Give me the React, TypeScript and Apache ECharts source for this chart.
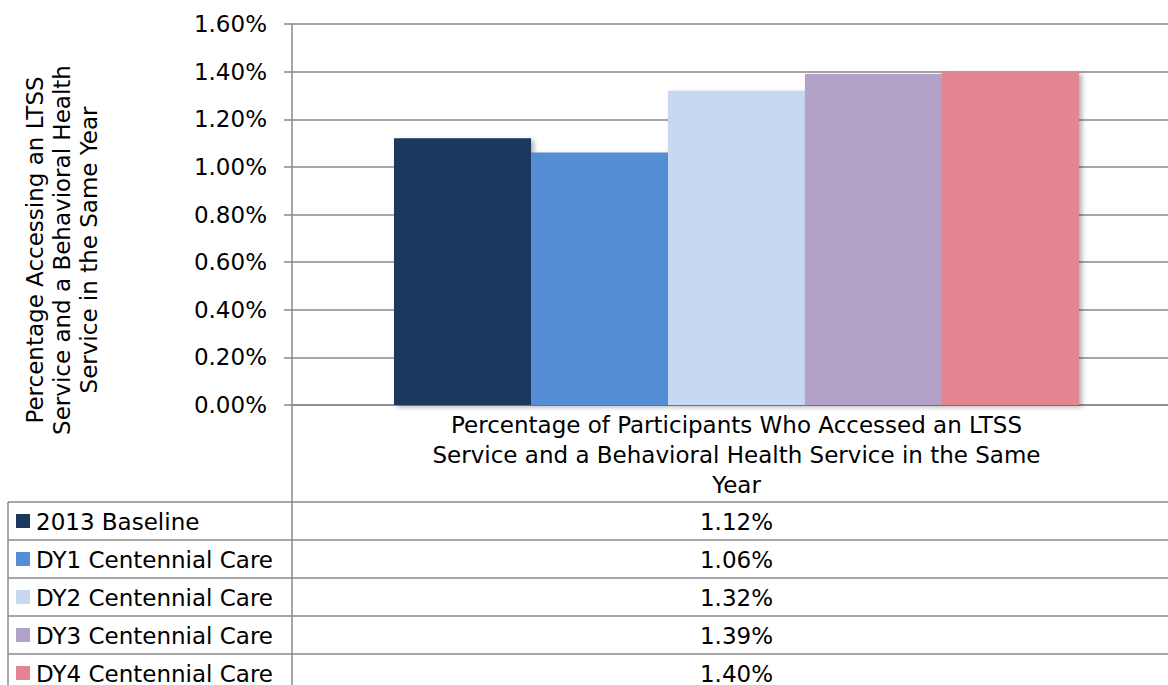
import React, { useEffect, useRef } from "react";
import * as echarts from "echarts";

const categories = [
  "Percentage of Participants Who Accessed an LTSS\nService and a Behavioral Health Service in the Same\nYear",
];
const seriesNames = [
  "2013 Baseline",
  "DY1 Centennial Care",
  "DY2 Centennial Care",
  "DY3 Centennial Care",
  "DY4 Centennial Care",
];
const seriesValues = [1.12, 1.06, 1.32, 1.39, 1.4];
const seriesColors = ["#1a375e", "#558ed5", "#c6d9f1", "#b2a2c7", "#e48591"];
const yTitle = "Percentage Accessing an LTSS\nService and a Behavioral Health\nService in the Same Year";

const W = 1168;
const H = 685;
const CHART_W = 1181;
const FONT = "DejaVu Sans";
const FS = 23;
const GRID_LEFT = 292;
const GRID_TOP = 24;
const GRID_H = 381;
const GRID_W = 889;
const TABLE_TOP = 502;
const ROW_H = 38;
const LINE_COLOR = "#8a8a8a";

export default function App() {
  const ref = useRef<HTMLDivElement>(null);
  useEffect(() => {
    document.body.style.margin = "0";
    if (!ref.current) return;
    const chart = echarts.init(ref.current, undefined, { renderer: "svg" });
    const fmt = (v: number) => v.toFixed(2) + "%";
    const graphics: any[] = [];
    const axisBottom = GRID_TOP + GRID_H;
    graphics.push({
      type: "text",
      x: 62,
      y: 250,
      rotation: Math.PI / 2,
      style: {
        text: yTitle,
        font: `${FS}px "${FONT}"`,
        fill: "#000",
        align: "center",
        verticalAlign: "middle",
        lineHeight: 27,
      },
    });
    graphics.push({
      type: "line",
      shape: { x1: GRID_LEFT, y1: axisBottom, x2: GRID_LEFT, y2: H },
      style: { stroke: LINE_COLOR, lineWidth: 1.5 },
    });
    graphics.push({
      type: "line",
      shape: { x1: 8, y1: TABLE_TOP, x2: 8, y2: H },
      style: { stroke: LINE_COLOR, lineWidth: 1.5 },
    });
    seriesNames.forEach((name, i) => {
      const top = TABLE_TOP + i * ROW_H;
      graphics.push({
        type: "line",
        shape: { x1: 8, y1: top, x2: CHART_W, y2: top },
        style: { stroke: LINE_COLOR, lineWidth: 1.5 },
      });
      graphics.push({
        type: "rect",
        shape: { x: 16, y: top + ROW_H / 2 - 7, width: 14, height: 14 },
        style: { fill: seriesColors[i] },
      });
      graphics.push({
        type: "text",
        x: 36,
        y: top + ROW_H / 2 + 1,
        style: {
          text: name,
          font: `${FS}px "${FONT}"`,
          fill: "#000",
          align: "left",
          verticalAlign: "middle",
        },
      });
      graphics.push({
        type: "text",
        x: GRID_LEFT + GRID_W / 2,
        y: top + ROW_H / 2 + 1,
        style: {
          text: fmt(seriesValues[i]),
          font: `${FS}px "${FONT}"`,
          fill: "#000",
          align: "center",
          verticalAlign: "middle",
        },
      });
    });

    chart.setOption({
      animation: false,
      textStyle: { fontFamily: FONT },
      grid: { left: GRID_LEFT, top: GRID_TOP, width: GRID_W, height: GRID_H, containLabel: false },
      xAxis: {
        type: "category",
        data: categories,
        axisLine: { show: true, lineStyle: { color: LINE_COLOR, width: 1.5 } },
        axisTick: { show: false },
        axisLabel: {
          color: "#000",
          fontSize: FS,
          fontFamily: FONT,
          lineHeight: 30,
          margin: 5,
          interval: 0,
        },
      },
      yAxis: {
        type: "value",
        min: 0,
        max: 1.6,
        interval: 0.2,
        axisLine: { show: true, lineStyle: { color: LINE_COLOR, width: 1.5 } },
        axisTick: { show: true, length: 8, lineStyle: { color: LINE_COLOR, width: 1.5 } },
        splitLine: { show: true, lineStyle: { color: LINE_COLOR, width: 1.5 } },
        axisLabel: {
          color: "#000",
          fontSize: FS,
          fontFamily: FONT,
          margin: 25,
          formatter: (v: number) => fmt(v),
        },
      },
      series: seriesNames.map((name, i) => ({
        type: "bar",
        name,
        data: [seriesValues[i]],
        barWidth: 137,
        barGap: "0%",
        itemStyle: {
          color: seriesColors[i],
          shadowColor: "rgba(0,0,0,0.3)",
          shadowBlur: 5,
          shadowOffsetX: 3,
          shadowOffsetY: 2,
        },
      })),
      graphic: graphics,
    });
    return () => chart.dispose();
  }, []);
  return (
    <div style={{ width: W, height: H, overflow: "hidden", position: "relative" }}>
      <div ref={ref} style={{ width: CHART_W, height: H }} />
    </div>
  );
}
